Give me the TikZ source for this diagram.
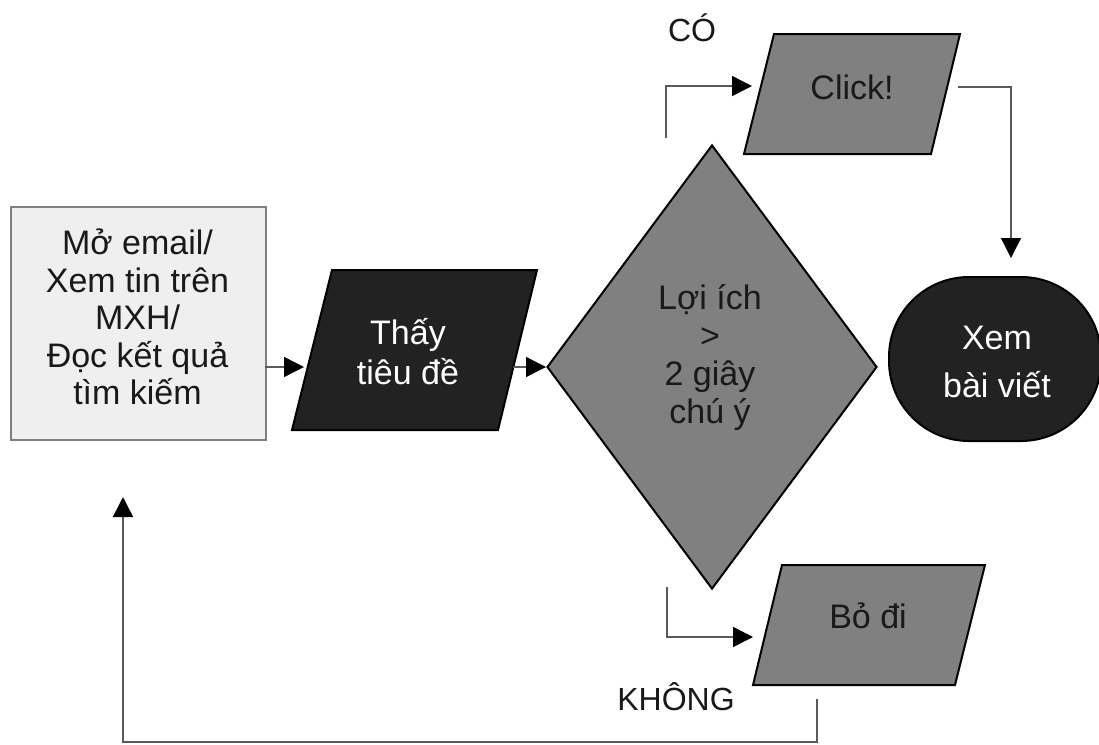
\documentclass[tikz,border=0pt]{standalone}
\usepackage{fontspec}
\setmainfont{Liberation Sans}
\usetikzlibrary{arrows.meta,shapes.geometric}
\definecolor{lightbox}{HTML}{EFEFEF}
\definecolor{boxline}{HTML}{7F7F7F}
\definecolor{darkfill}{HTML}{222222}
\definecolor{midfill}{HTML}{808080}
\definecolor{conncol}{HTML}{5A5A5A}
\begin{document}
\begin{tikzpicture}[x=1pt,y=-1pt,
  conn/.style={draw=conncol, line width=1.5pt, -{Triangle[length=20pt,width=20pt,color=black]}},
  shapeline/.style={draw=black, line width=2pt, line join=miter},
  bigtxt/.style={font=\fontsize{34}{38}\selectfont, align=center, inner sep=0pt, text=black!90},
  lbl/.style={font=\fontsize{32}{38}\selectfont, inner sep=0pt, text=black!90}]
\useasboundingbox (0,0) rectangle (1099,744);

% start box
\node[draw=boxline, fill=lightbox, line width=2pt, minimum width=255pt, minimum height=233pt,
      inner sep=0pt, anchor=north west] (start) at (10,206) {};
\node[bigtxt, font=\fontsize{34}{37.5}\selectfont] (starttxt) at (137.5,317) {Mở email/\\Xem tin trên\\MXH/\\Đọc kết quả\\tìm kiếm};

% Thấy tiêu đề parallelogram
\coordinate (t1) at (332,270);
\coordinate (t2) at (537,270);
\coordinate (t3) at (498,430);
\coordinate (t4) at (292,430);
\filldraw[shapeline, fill=darkfill] (t1) -- (t2) -- (t3) -- (t4) -- cycle;
\node[bigtxt, text=white, font=\fontsize{34}{40}\selectfont] (thay) at (408,352) {Thấy\\tiêu đề};

% decision diamond
\node[diamond, shapeline, fill=midfill, minimum width=330pt, minimum height=444pt, inner sep=0pt] (dec) at (712,367) {};
\node[bigtxt] (dectxt) at (710,358) {Lợi ích\\>\\2 giây\\chú ý};

% Click! parallelogram
\coordinate (c1) at (774,34);
\coordinate (c2) at (960,34);
\coordinate (c3) at (931,154);
\coordinate (c4) at (744,154);
\filldraw[shapeline, fill=midfill] (c1) -- (c2) -- (c3) -- (c4) -- cycle;
\node[bigtxt] (click) at (852,87) {Click!};

% Bỏ đi parallelogram
\coordinate (b1) at (782,565);
\coordinate (b2) at (985,565);
\coordinate (b3) at (955,685);
\coordinate (b4) at (753,685);
\filldraw[shapeline, fill=midfill] (b1) -- (b2) -- (b3) -- (b4) -- cycle;
\node[bigtxt] (bodi) at (868,616) {Bỏ đi};

% Xem bài viết terminal
\node[shapeline, fill=darkfill, rounded corners=80pt, minimum width=212pt, minimum height=164pt,
      inner sep=0pt, anchor=north west] (xem) at (888,276) {};
\node[bigtxt, text=white, font=\fontsize{34}{48}\selectfont] (xemtxt) at (997,362) {Xem\\bài viết};

% labels
\node[lbl] (co) at (692,28) {CÓ};
\node[lbl] (khong) at (676,697) {KHÔNG};

% connector end points
\coordinate (startout) at (265,367);
\coordinate (thayin) at (304,367);
\coordinate (thayout) at (513,367);
\coordinate (costart) at (666,138);
\coordinate (clickin) at (752,86);
\coordinate (clickout) at (958,87);
\coordinate (xemin) at (1011,258);
\coordinate (khstart) at (667,587);
\coordinate (boin) at (753,637);
\coordinate (fbstart) at (817,699);
\coordinate (fbcorner) at (817,742);
\coordinate (fbend) at (123,497);

% connectors
\draw[conn] (startout) -- (thayin);
\draw[conn] (thayout) -- (dec.west);
\draw[conn] (costart) |- (clickin);
\draw[conn] (clickout) -| (xemin);
\draw[conn] (khstart) |- (boin);
\draw[conn] (fbstart) -- (fbcorner) -| (fbend);
\end{tikzpicture}
\end{document}
